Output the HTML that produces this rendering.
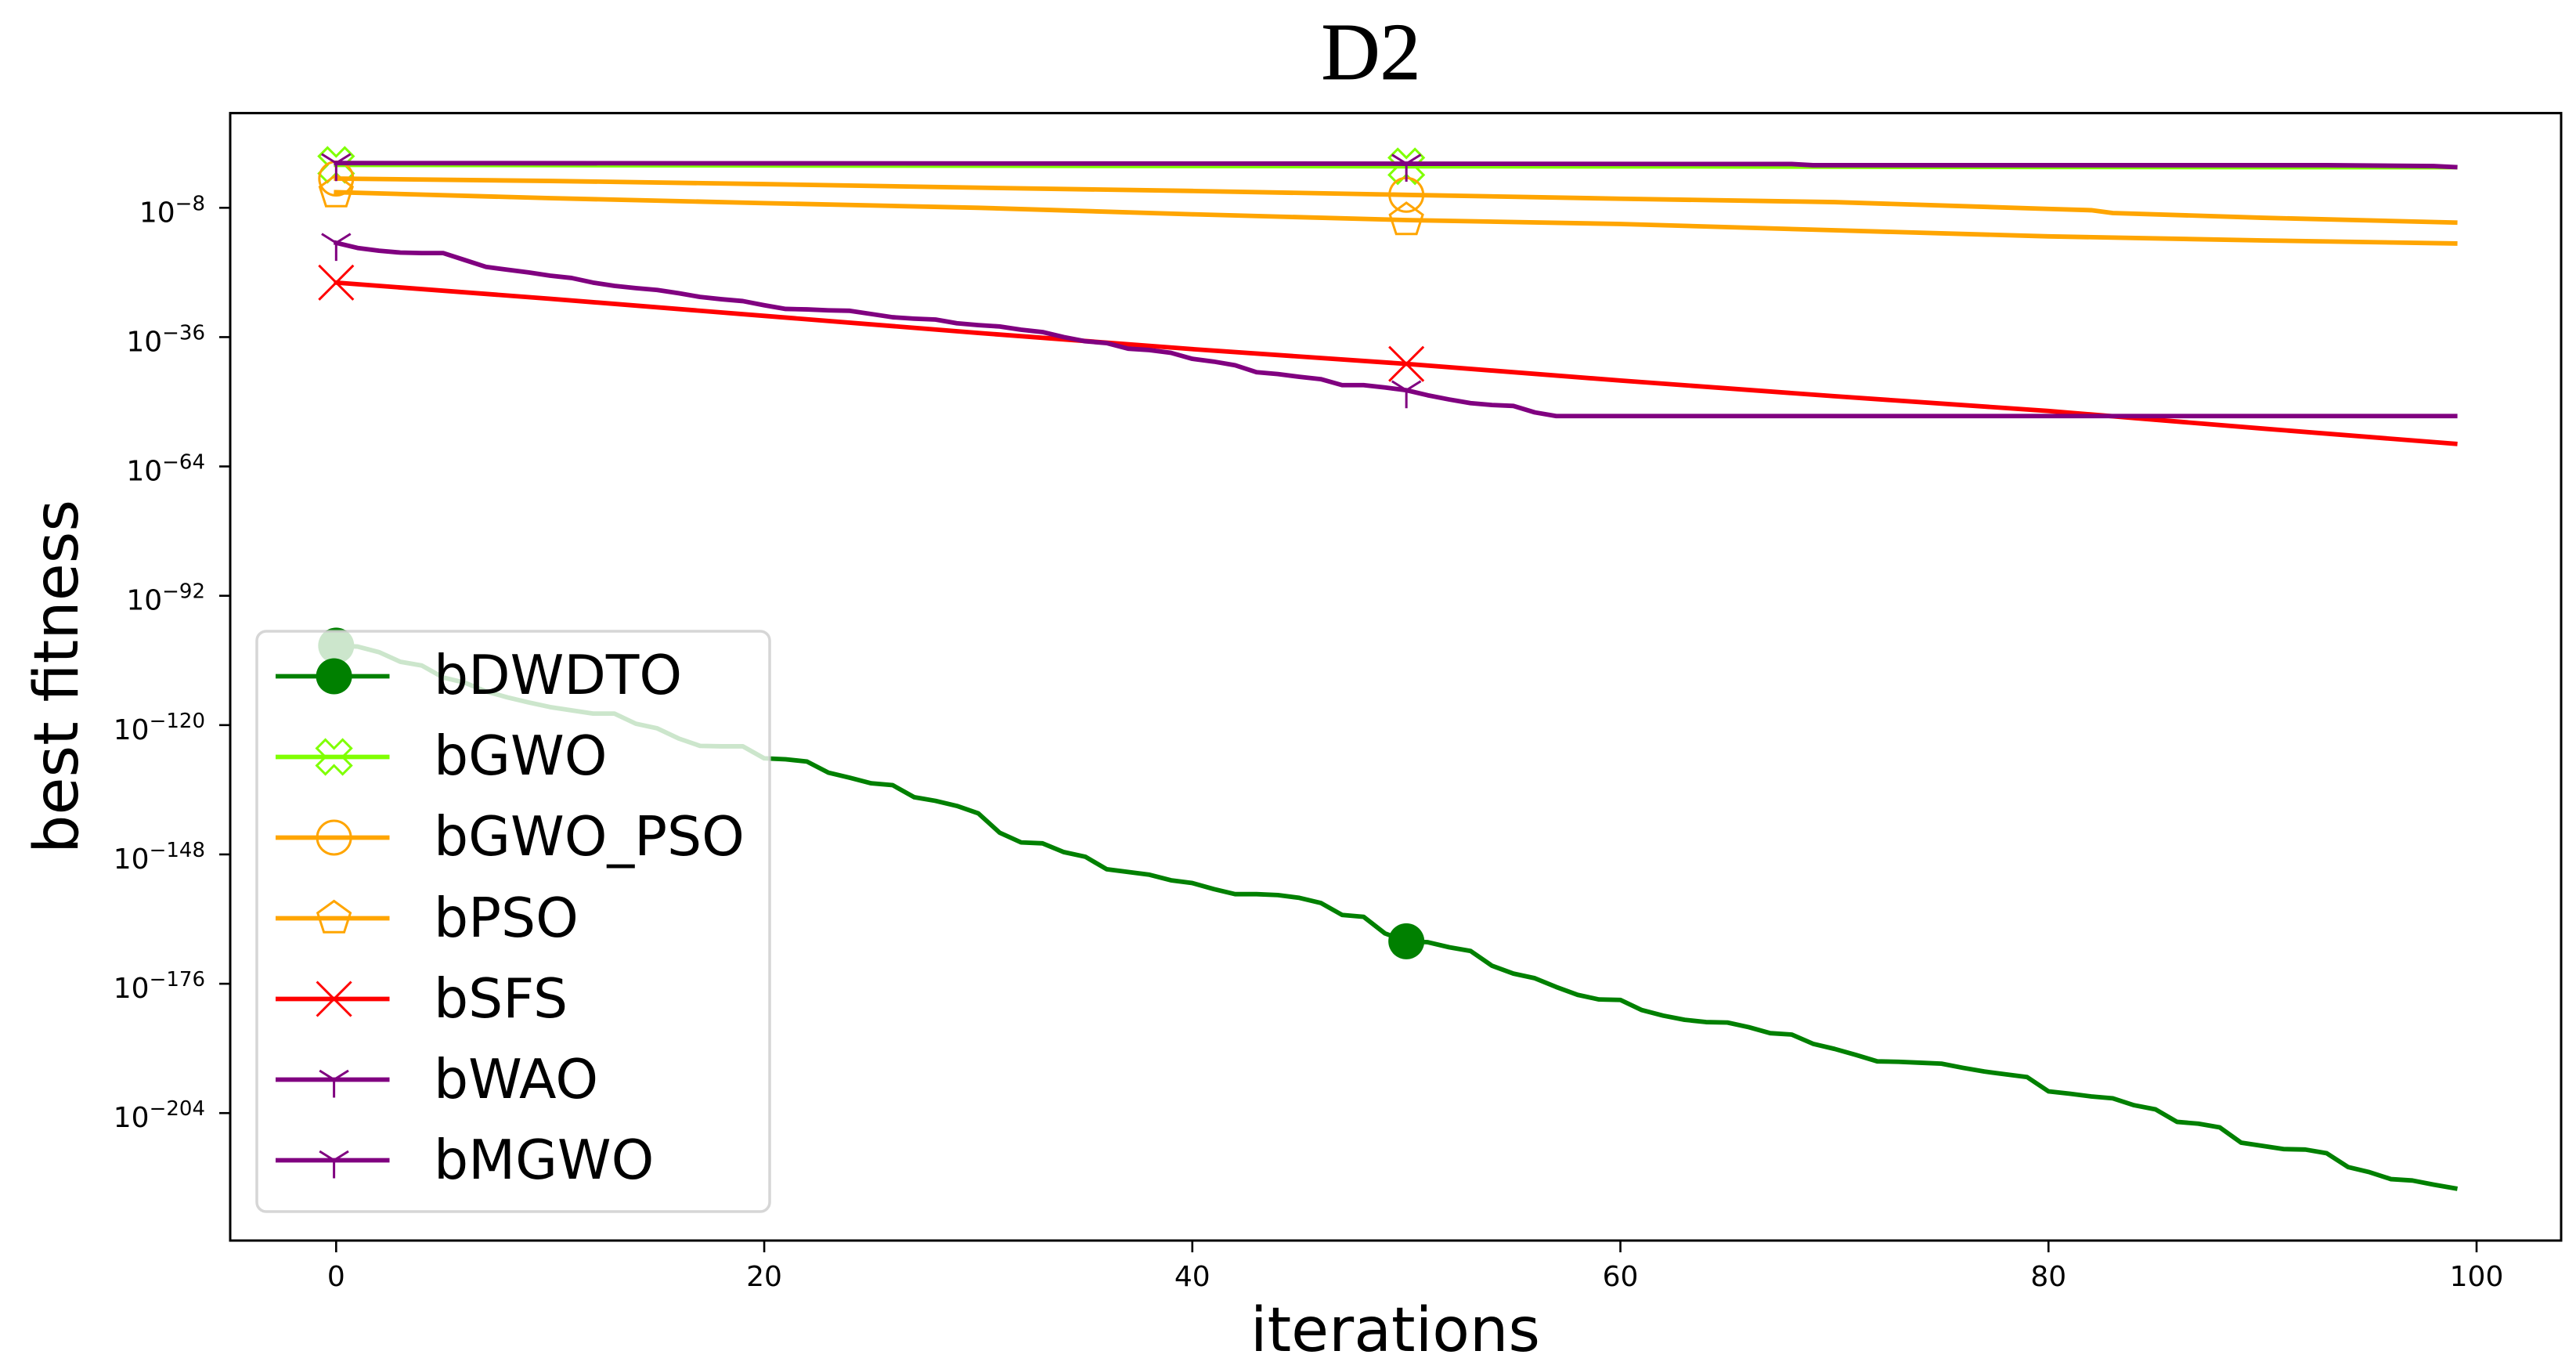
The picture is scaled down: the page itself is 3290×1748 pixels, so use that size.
<!DOCTYPE html>
<html lang="en">
<head>
<meta charset="utf-8">
<title>D2 best fitness convergence</title>
<style>
  html, body { margin: 0; padding: 0; background: #ffffff; }
  svg { display: block; }
  text { font-family: "DejaVu Sans", "Liberation Sans", sans-serif; fill: #000000; }
  .title { font-family: "Liberation Serif", serif; font-size: 104px; stroke: #000000; stroke-width: 0.8px; }
  .axis-label { font-size: 78px; }
  .tick { font-size: 36px; }
  .legend-text { font-size: 69.5px; }
</style>
</head>
<body>
<svg id="chart" xmlns="http://www.w3.org/2000/svg" width="3290" height="1748" viewBox="0 0 3290 1748">
  <rect x="0" y="0" width="3290" height="1748" fill="#ffffff"/>
  <text class="title" x="1751" y="101" text-anchor="middle">D2</text>
  <g id="ticks"></g>
  <g id="series"></g>
  <rect x="294" y="144.4" width="2977" height="1439.6" fill="none" stroke="#000000" stroke-width="3"/>
  <rect x="328" y="806" width="655" height="741" rx="12" ry="12" fill="#ffffff" fill-opacity="0.8" stroke="#cccccc" stroke-opacity="0.8" stroke-width="3.5"/>
  <g id="legend-handles"></g>
  <g>
    <text class="legend-text" x="554" y="886">bDWDTO</text>
    <text class="legend-text" x="554" y="989">bGWO</text>
    <text class="legend-text" x="554" y="1092">bGWO_PSO</text>
    <text class="legend-text" x="554" y="1196">bPSO</text>
    <text class="legend-text" x="554" y="1299">bSFS</text>
    <text class="legend-text" x="554" y="1402">bWAO</text>
    <text class="legend-text" x="554" y="1505">bMGWO</text>
  </g>
  <text class="axis-label" x="1782" y="1725" text-anchor="middle">iterations</text>
  <text class="axis-label" x="0" y="0" text-anchor="middle" transform="translate(99 864) rotate(-90)">best fitness</text>
</svg>
<script>
// Tick labels
const xTickValues = [0, 20, 40, 60, 80, 100];
const yTickExponents = [-8, -36, -64, -92, -120, -148, -176, -204];

// Axis limits (x in iterations, y in log10 of best fitness)
const xLimits = [-4.95, 103.95];
const yLimits = [12.5, -231.6];

// Iterations at which each series was read; log10 of best fitness at those iterations
const iterDWDTO = Array.from({ length: 100 }, (_, i) => i);
const log10DWDTO = [
  -102.8,-103.0,-104.2,-106.3,-107.1,-109.7,-110.8,-112.7,-114.0,-115.1,
  -116.1,-116.8,-117.5,-117.5,-119.7,-120.7,-122.9,-124.5,-124.6,-124.6,
  -127.2,-127.4,-127.9,-130.3,-131.4,-132.6,-133.0,-135.6,-136.4,-137.5,
  -139.1,-143.3,-145.4,-145.6,-147.5,-148.5,-151.2,-151.8,-152.4,-153.6,
  -154.2,-155.5,-156.6,-156.6,-156.8,-157.4,-158.5,-161.1,-161.5,-165.1,
  -166.8,-167.0,-168.1,-168.9,-172.1,-173.8,-174.8,-176.7,-178.4,-179.4,
  -179.5,-181.7,-182.9,-183.8,-184.3,-184.4,-185.4,-186.7,-187.0,-189.0,
  -190.1,-191.4,-192.8,-192.9,-193.1,-193.3,-194.2,-195.0,-195.6,-196.2,
  -199.3,-199.8,-200.4,-200.8,-202.3,-203.2,-205.9,-206.3,-207.1,-210.4,
  -211.1,-211.8,-211.9,-212.7,-215.7,-216.8,-218.3,-218.6,-219.5,-220.3
];

const iterGWO = [0, 50, 63, 80, 93, 99];
const log10GWO = [1.29, 0.98, 0.95, 0.83, 0.78, 0.78];

const iterGWOPSO = [0, 10, 20, 30, 40, 50, 60, 70, 80, 82, 83, 90, 99];
const log10GWOPSO = [-1.68, -2.19, -2.87, -3.65, -4.36, -5.2, -6.04, -6.77, -8.24, -8.53, -9.14, -10.16, -11.2];

const iterPSO = [0, 10, 20, 30, 40, 50, 60, 70, 80, 90, 99];
const log10PSO = [-4.63, -5.92, -6.99, -8.0, -9.41, -10.66, -11.51, -12.87, -14.19, -15.07, -15.73];

const iterSFS = [0, 10, 20, 30, 40, 50, 60, 70, 80, 90, 99];
const log10SFS = [-24.2, -27.7, -31.4, -35.1, -38.6, -41.8, -45.4, -48.8, -52.0, -55.8, -59.1];

const iterWAO = [
  0,1,2,3,4,5,6,7,8,9,10,11,12,13,14,15,16,17,18,19,
  20,21,22,23,24,25,26,27,28,29,30,31,32,33,34,35,36,37,38,39,
  40,41,42,43,44,45,46,47,48,49,50,51,52,53,54,55,56,57,99
];
const log10WAO = [
  -15.6,-16.7,-17.3,-17.7,-17.8,-17.8,-19.3,-20.8,-21.4,-22.0,
  -22.7,-23.2,-24.2,-24.9,-25.4,-25.8,-26.5,-27.3,-27.8,-28.2,
  -29.1,-29.9,-30.0,-30.2,-30.3,-31.0,-31.7,-32.0,-32.2,-33.0,
  -33.4,-33.7,-34.4,-34.9,-36.0,-36.9,-37.3,-38.5,-38.8,-39.4,
  -40.7,-41.3,-42.1,-43.6,-44.0,-44.6,-45.1,-46.4,-46.4,-46.9,
  -47.5,-48.6,-49.5,-50.3,-50.7,-50.9,-52.3,-53.1,-53.1
];

const iterMGWO = [0, 50, 68, 69, 93, 98, 99];
const log10MGWO = [1.68, 1.54, 1.47, 1.22, 1.22, 1.03, 0.81];

const markerIterations = [0, 50];

const plot = { left: 294, right: 3271, top: 144.4, bottom: 1584 };

function xScale(value) {
  return plot.left + (value - xLimits[0]) / (xLimits[1] - xLimits[0]) * (plot.right - plot.left);
}
function yScale(value) {
  return plot.top + (value - yLimits[0]) / (yLimits[1] - yLimits[0]) * (plot.bottom - plot.top);
}

const SVG_NS = 'http://www.w3.org/2000/svg';
function make(tag, parent) {
  const el = document.createElementNS(SVG_NS, tag);
  parent.appendChild(el);
  return el;
}

function drawMarker(parent, shape, cx, cy, color, label) {
  let el;
  if (shape === 'filled-circle') {
    el = make('circle', parent);
    el.setAttribute('cx', cx);
    el.setAttribute('cy', cy);
    el.setAttribute('r', 23);
    el.setAttribute('fill', color);
  } else if (shape === 'circle') {
    el = make('circle', parent);
    el.setAttribute('cx', cx);
    el.setAttribute('cy', cy);
    el.setAttribute('r', 21.5);
    el.setAttribute('fill', 'none');
    el.setAttribute('stroke', color);
    el.setAttribute('stroke-width', 3);
  } else if (shape === 'x-filled') {
    const u = 11;
    const outline = [[-1,-2],[0,-1],[1,-2],[2,-1],[1,0],[2,1],[1,2],[0,1],[-1,2],[-2,1],[-1,0],[-2,-1]];
    el = make('polygon', parent);
    el.setAttribute('points', outline.map(p => (cx + p[0] * u) + ',' + (cy + p[1] * u)).join(' '));
    el.setAttribute('fill', 'none');
    el.setAttribute('stroke', color);
    el.setAttribute('stroke-width', 3);
  } else if (shape === 'pentagon') {
    const r = 22;
    const pts = [];
    for (let k = 0; k < 5; k++) {
      const a = -Math.PI / 2 + k * 2 * Math.PI / 5;
      pts.push((cx + r * Math.cos(a)) + ',' + (cy + r * Math.sin(a)));
    }
    el = make('polygon', parent);
    el.setAttribute('points', pts.join(' '));
    el.setAttribute('fill', 'none');
    el.setAttribute('stroke', color);
    el.setAttribute('stroke-width', 3);
  } else if (shape === 'x') {
    const h = 22;
    el = make('path', parent);
    el.setAttribute('d', 'M' + (cx - h) + ' ' + (cy - h) + 'L' + (cx + h) + ' ' + (cy + h) + 'M' + (cx - h) + ' ' + (cy + h) + 'L' + (cx + h) + ' ' + (cy - h));
    el.setAttribute('fill', 'none');
    el.setAttribute('stroke', color);
    el.setAttribute('stroke-width', 3);
  } else {
    const r = 23;
    el = make('path', parent);
    el.setAttribute('d', 'M' + cx + ' ' + cy + 'V' + (cy + r) + 'M' + cx + ' ' + cy + 'L' + (cx + 0.8 * r) + ' ' + (cy - 0.5 * r) + 'M' + cx + ' ' + cy + 'L' + (cx - 0.8 * r) + ' ' + (cy - 0.5 * r));
    el.setAttribute('fill', 'none');
    el.setAttribute('stroke', color);
    el.setAttribute('stroke-width', 3);
  }
  
  
}

// X axis ticks
const ticksLayer = document.getElementById('ticks');
xTickValues.forEach(function (value) {
  const x = xScale(value);
  const tick = make('line', ticksLayer);
  tick.setAttribute('x1', x);
  tick.setAttribute('x2', x);
  tick.setAttribute('y1', plot.bottom);
  tick.setAttribute('y2', plot.bottom + 15);
  tick.setAttribute('stroke', '#000000');
  tick.setAttribute('stroke-width', 2.6);
  
  
  const label = make('text', ticksLayer);
  label.setAttribute('class', 'tick');
  label.setAttribute('x', x);
  label.setAttribute('y', 1642);
  label.setAttribute('text-anchor', 'middle');
  label.textContent = String(value);
  
  
});

// Y axis ticks
yTickExponents.forEach(function (value) {
  const y = yScale(value);
  const tick = make('line', ticksLayer);
  tick.setAttribute('x1', plot.left - 14);
  tick.setAttribute('x2', plot.left);
  tick.setAttribute('y1', y);
  tick.setAttribute('y2', y);
  tick.setAttribute('stroke', '#000000');
  tick.setAttribute('stroke-width', 2.6);
  
  
  const label = make('text', ticksLayer);
  label.setAttribute('class', 'tick');
  label.setAttribute('x', 262);
  label.setAttribute('y', y + 18);
  label.setAttribute('text-anchor', 'end');
  
  
  label.appendChild(document.createTextNode('10'));
  const sup = make('tspan', label);
  sup.setAttribute('dy', -15);
  sup.setAttribute('font-size', 26);
  sup.textContent = '\u2212' + Math.abs(value);
});

// Series
const seriesList = [
  { name: 'bdwdto', color: '#008000', shape: 'filled-circle', iters: iterDWDTO, values: log10DWDTO },
  { name: 'bgwo', color: '#7fff00', shape: 'x-filled', iters: iterGWO, values: log10GWO },
  { name: 'bgwo-pso', color: '#ffa500', shape: 'circle', iters: iterGWOPSO, values: log10GWOPSO },
  { name: 'bpso', color: '#ffa500', shape: 'pentagon', iters: iterPSO, values: log10PSO },
  { name: 'bsfs', color: '#ff0000', shape: 'x', iters: iterSFS, values: log10SFS },
  { name: 'bwao', color: '#800080', shape: 'tri', iters: iterWAO, values: log10WAO },
  { name: 'bmgwo', color: '#800080', shape: 'tri', iters: iterMGWO, values: log10MGWO }
];

const seriesLayer = document.getElementById('series');
const handlesLayer = document.getElementById('legend-handles');

seriesList.forEach(function (s, row) {
  const line = make('polyline', seriesLayer);
  line.setAttribute('points', s.iters.map(function (t, i) {
    return xScale(t).toFixed(2) + ',' + yScale(s.values[i]).toFixed(2);
  }).join(' '));
  line.setAttribute('fill', 'none');
  line.setAttribute('stroke', s.color);
  line.setAttribute('stroke-width', 5.8);
  line.setAttribute('stroke-linejoin', 'round');
  line.setAttribute('stroke-linecap', 'square');
  
  

  markerIterations.forEach(function (t) {
    const idx = s.iters.indexOf(t);
    if (idx >= 0) {
      drawMarker(seriesLayer, s.shape, xScale(t), yScale(s.values[idx]), s.color, 'marker-' + s.name);
    }
  });

  const rowY = 863.5 + row * 103;
  const handle = make('line', handlesLayer);
  handle.setAttribute('x1', 352);
  handle.setAttribute('x2', 497.5);
  handle.setAttribute('y1', rowY);
  handle.setAttribute('y2', rowY);
  handle.setAttribute('stroke', s.color);
  handle.setAttribute('stroke-width', 5.8);
  
  
  drawMarker(handlesLayer, s.shape, 426.6, rowY, s.color, 'legend-marker-' + s.name);
});
</script>
</body>
</html>
